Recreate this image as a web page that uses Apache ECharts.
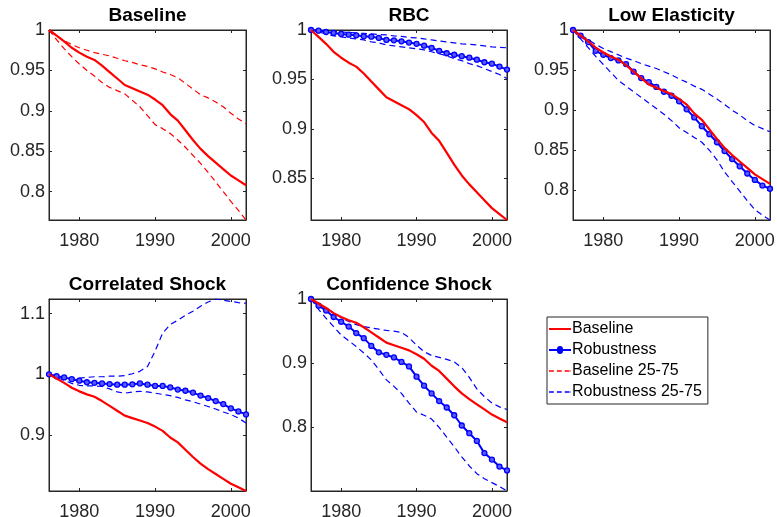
<!DOCTYPE html>
<html><head><meta charset="utf-8">
<script src="https://cdn.jsdelivr.net/npm/echarts@6/dist/echarts.min.js"></script>
<style>html,body{margin:0;padding:0;background:#fff}#c{width:777px;height:517px}</style>
</head><body><div id="c"></div>
<script>
const years = [1976,1977,1978,1979,1980,1981,1982,1983,1984,1985,1986,1987,1988,1989,1990,1991,1992,1993,1994,1995,1996,1997,1998,1999,2000,2001,2002];
const baseline = [1.000,0.993,0.986,0.978,0.972,0.967,0.963,0.956,0.948,0.940,0.932,0.928,0.924,0.920,0.914,0.907,0.896,0.888,0.876,0.864,0.853,0.844,0.836,0.828,0.820,0.814,0.808];
const baselineP75 = [1.000,0.993,0.987,0.982,0.978,0.975,0.972,0.970,0.968,0.965,0.962,0.960,0.957,0.955,0.952,0.948,0.945,0.941,0.934,0.927,0.920,0.916,0.911,0.905,0.897,0.890,0.884];
const baselineP25 = [1.000,0.988,0.977,0.967,0.958,0.950,0.943,0.935,0.929,0.925,0.921,0.913,0.905,0.894,0.883,0.878,0.872,0.864,0.855,0.845,0.835,0.824,0.812,0.800,0.788,0.777,0.765];
const rbcRobust = [1.000,0.9993,0.998,0.997,0.996,0.9953,0.9946,0.9936,0.9933,0.992,0.990,0.9896,0.9886,0.9873,0.986,0.9842,0.982,0.979,0.9765,0.975,0.9735,0.972,0.970,0.9674,0.966,0.963,0.960];
const rbcP75 = [1.000,0.9995,0.999,0.9985,0.998,0.9975,0.997,0.9965,0.996,0.9955,0.995,0.994,0.9935,0.9925,0.992,0.991,0.990,0.989,0.988,0.987,0.986,0.9855,0.985,0.984,0.983,0.9825,0.982];
const rbcP25 = [1.000,0.998,0.996,0.994,0.993,0.992,0.991,0.990,0.988,0.987,0.985,0.984,0.983,0.982,0.981,0.980,0.978,0.976,0.974,0.971,0.969,0.966,0.964,0.961,0.958,0.955,0.951];
const lowElRobust = [1.000,0.993,0.985,0.974,0.969,0.965,0.962,0.9575,0.948,0.940,0.935,0.929,0.923,0.918,0.911,0.901,0.891,0.880,0.870,0.860,0.849,0.839,0.830,0.821,0.813,0.806,0.802];
const lowElP75 = [1.000,0.994,0.988,0.982,0.977,0.973,0.969,0.965,0.962,0.958,0.955,0.952,0.948,0.944,0.939,0.935,0.930,0.926,0.920,0.914,0.907,0.900,0.894,0.887,0.881,0.877,0.873];
const lowElP25 = [1.000,0.989,0.978,0.967,0.957,0.947,0.937,0.930,0.923,0.916,0.909,0.902,0.895,0.887,0.878,0.872,0.866,0.860,0.850,0.838,0.823,0.811,0.799,0.787,0.776,0.769,0.763];
const corrRobust = [1.000,0.997,0.995,0.992,0.9895,0.987,0.986,0.985,0.984,0.983,0.983,0.9835,0.985,0.983,0.981,0.981,0.9785,0.975,0.973,0.970,0.965,0.961,0.956,0.951,0.944,0.939,0.934];
const corrP75 = [1.000,0.997,0.995,0.994,0.994,0.995,0.996,0.996,0.997,0.997,0.998,1.001,1.005,1.013,1.038,1.068,1.082,1.089,1.097,1.104,1.112,1.119,1.124,1.122,1.120,1.118,1.117];
const corrP25 = [1.000,0.995,0.990,0.985,0.982,0.981,0.981,0.980,0.976,0.971,0.969,0.971,0.972,0.971,0.969,0.967,0.965,0.962,0.958,0.955,0.951,0.947,0.943,0.938,0.934,0.928,0.920];
const confRobust = [1.000,0.9896,0.982,0.972,0.9646,0.957,0.947,0.939,0.927,0.917,0.913,0.909,0.902,0.895,0.879,0.865,0.853,0.841,0.831,0.819,0.803,0.791,0.779,0.760,0.750,0.739,0.733];
const confP75 = [1.000,0.993,0.986,0.978,0.971,0.965,0.960,0.957,0.955,0.953,0.951,0.950,0.948,0.940,0.928,0.918,0.912,0.909,0.906,0.902,0.893,0.878,0.860,0.848,0.838,0.832,0.828];
const confP25 = [1.000,0.984,0.970,0.957,0.944,0.935,0.926,0.916,0.905,0.890,0.874,0.864,0.853,0.838,0.824,0.819,0.813,0.800,0.785,0.770,0.754,0.740,0.728,0.720,0.714,0.708,0.701];

const panelTitles = ['Baseline','RBC','Low Elasticity','Correlated Shock','Confidence Shock'];
const xTicks = [1980,1990,2000];
const yTicksByPanel = [[0.8,0.85,0.9,0.95,1],[0.85,0.9,0.95,1],[0.8,0.85,0.9,0.95,1],[0.9,1,1.1],[0.8,0.9,1]];
const legendNames = ['Baseline','Robustness','Baseline 25-75','Robustness 25-75'];

const panelData = [
  {robust:null, lo:baselineP25, hi:baselineP75, band:'Baseline 25-75'},
  {robust:rbcRobust, lo:rbcP25, hi:rbcP75, band:'Robustness 25-75'},
  {robust:lowElRobust, lo:lowElP25, hi:lowElP75, band:'Robustness 25-75'},
  {robust:corrRobust, lo:corrP25, hi:corrP75, band:'Robustness 25-75'},
  {robust:confRobust, lo:confP25, hi:confP75, band:'Robustness 25-75'}
];

const boxes = [[49,30,197,190],[311,30,196,190],[573,30,197,190],[49,299,197,192],[311,299,196,192]];
const FONT = 'Liberation Sans, Arial, Helvetica, sans-serif';
const AX = '#262626';
const RED = '#ff0000', BLUE = '#0000ff';

const pairs = arr => years.map((y,i)=>[y,arr[i]]);
const fmt = v => String(+(+v).toFixed(3));

const grid=[], xAxis=[], yAxis=[], series=[], graphic=[];
boxes.forEach((b,i)=>{
  const p = panelData[i];
  grid.push({left:b[0], top:b[1], width:b[2], height:b[3], show:true, borderColor:AX, borderWidth:1, backgroundColor:'#fff',
    containLabel:false, outerBoundsMode:'none'});
  const all = [].concat(baseline, p.lo, p.hi, p.robust||[]);
  const ymin = Math.min(...all), ymax = Math.max(...all);
  const tickInside = {show:true, inside:true, length:3, lineStyle:{color:AX, width:1}};
  xAxis.push({type:'value', gridIndex:i, position:'bottom', min:years[0], max:years[years.length-1],
    axisLine:{show:true, onZero:false, lineStyle:{color:AX, width:1}},
    axisTick:Object.assign({customValues:xTicks}, tickInside),
    axisLabel:{show:true, customValues:xTicks, color:AX, fontSize:18, fontFamily:FONT, margin:12, formatter:v=>String(Math.round(v))},
    splitLine:{show:false}});
  xAxis.push({type:'value', gridIndex:i, position:'top', min:years[0], max:years[years.length-1],
    axisLine:{show:true, onZero:false, lineStyle:{color:AX, width:1}},
    axisTick:Object.assign({customValues:xTicks}, tickInside),
    axisLabel:{show:false}, splitLine:{show:false}});
  const yt = yTicksByPanel[i];
  yAxis.push({type:'value', gridIndex:i, position:'left', min:ymin, max:ymax,
    axisLine:{show:true, onZero:false, lineStyle:{color:AX, width:1}},
    axisTick:Object.assign({customValues:yt}, tickInside),
    axisLabel:{show:true, customValues:yt, color:AX, fontSize:18, fontFamily:FONT, margin:4, formatter:fmt},
    splitLine:{show:false}});
  yAxis.push({type:'value', gridIndex:i, position:'right', min:ymin, max:ymax,
    axisLine:{show:true, onZero:false, lineStyle:{color:AX, width:1}},
    axisTick:Object.assign({customValues:yt}, tickInside),
    axisLabel:{show:false}, splitLine:{show:false}});
  const xi = 2*i, yi = 2*i;
  const bandColor = p.band === 'Baseline 25-75' ? RED : BLUE;
  [p.lo, p.hi].forEach(arr=>{
    series.push({type:'line', name:p.band, xAxisIndex:xi, yAxisIndex:yi, data:pairs(arr),
      symbol:'none', showSymbol:false, lineStyle:{color:bandColor, width:1.2, type:[6,4]}, itemStyle:{color:bandColor}, z:2});
  });
  if (p.robust) {
    series.push({type:'line', name:'Robustness', xAxisIndex:xi, yAxisIndex:yi, data:pairs(p.robust),
      symbol:'circle', symbolSize:5, showSymbol:true,
      lineStyle:{color:BLUE, width:2}, itemStyle:{color:'#5a5aff', borderColor:BLUE, borderWidth:1.3}, z:3});
  }
  series.push({type:'line', name:'Baseline', xAxisIndex:xi, yAxisIndex:yi, data:pairs(baseline),
    symbol:'none', showSymbol:false, lineStyle:{color:RED, width:2.2}, itemStyle:{color:RED}, z:4});
  graphic.push({type:'text', x:b[0]+b[2]/2, y:b[1]-14, style:{text:panelTitles[i], font:'bold 19px '+FONT, fill:'#000', textAlign:'center', textVerticalAlign:'middle'}});
});

const ICON_SOLID = 'path://M0,0L22,0L22,2L0,2Z';
const ICON_MARK = 'path://M0,2L8,2A3,3 0 0 1 14,2L22,2L22,4L14,4A3,3 0 0 1 8,4L0,4Z';
const ICON_DASH = 'path://M0,0L5,0L5,1.3L0,1.3Z M8,0L13,0L13,1.3L8,1.3Z M16,0L21,0L21,1.3L16,1.3Z M22,0L22.5,0L22.5,1.3L22,1.3Z';
const legendIcons = [ICON_SOLID, ICON_MARK, ICON_DASH, ICON_DASH];
const legendColors = [RED, BLUE, RED, BLUE];

const chart = echarts.init(document.getElementById('c'), null, {renderer:'canvas'});
chart.setOption({
  animation:false,
  backgroundColor:'#fff',
  grid, xAxis, yAxis, series, graphic,
  legend:{data:legendNames.map((n,k)=>({name:n, icon:legendIcons[k], itemStyle:{color:legendColors[k], borderWidth:0}})),
    orient:'vertical', left:547, top:317, itemWidth:22, itemHeight:14, itemGap:5, symbolKeepAspect:true,
    padding:[4,6,4,2], borderColor:AX, borderWidth:1, backgroundColor:'#fff', selectedMode:false,
    textStyle:{fontSize:16, lineHeight:16, color:'#000', fontFamily:FONT, padding:[0,0,0,-4]}}
});
</script></body></html>
